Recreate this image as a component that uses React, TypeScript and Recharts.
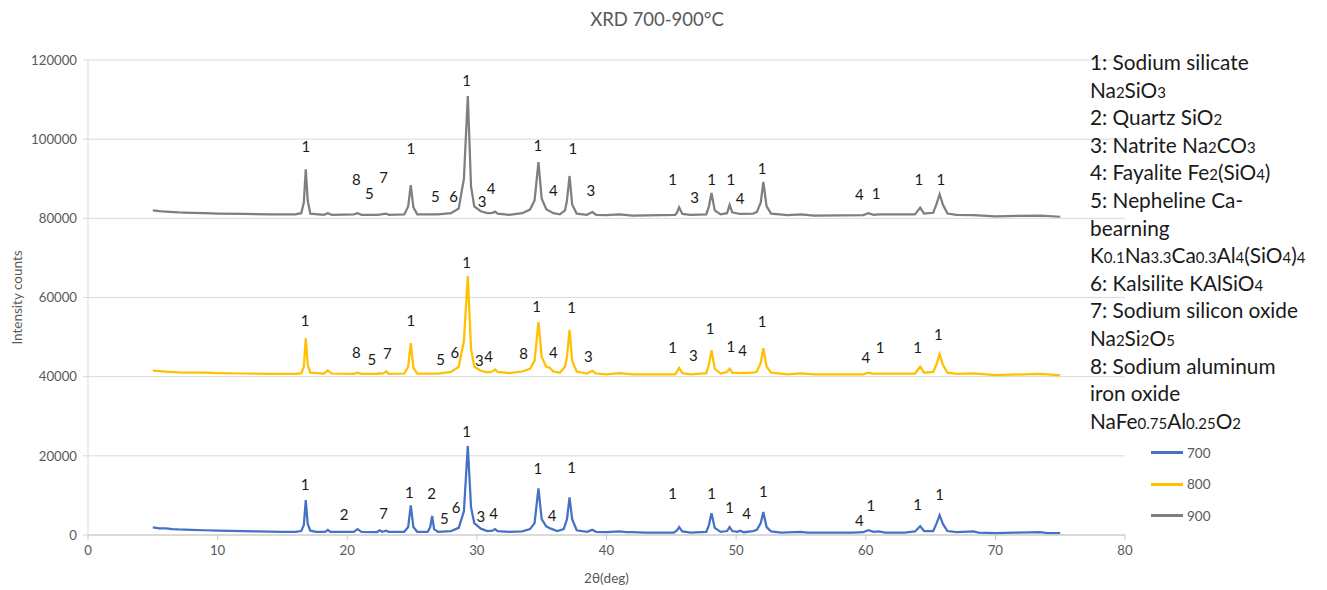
import React from 'react';
import { ComposedChart, Line, Scatter, XAxis, YAxis, CartesianGrid, Legend } from 'recharts';

type Pt = [number, number];
type Lbl = [number, number, string];

const FONT = 'Lato, "Noto Sans", "DejaVu Sans", sans-serif';

const chartTitle = 'XRD 700-900°C';
const xAxisTitle = '2θ(deg)';
const yAxisTitle = 'Intensity counts';
const xTicks = [0, 10, 20, 30, 40, 50, 60, 70, 80];
const yTicks = [0, 20000, 40000, 60000, 80000, 100000, 120000];
const seriesNames = ['700', '800', '900'];
const seriesColors = ['#4472C4', '#FFC000', '#7F7F7F'];

const series700: Pt[] = [
  [5, 1900], [5.5, 1700], [6, 1650], [6.5, 1500], [7, 1400], [7.5, 1350], [8, 1300], [9, 1200],
  [10, 1100], [11, 1050], [12, 950], [13, 900], [14, 850], [15, 800], [16, 800], [16.45, 1000],
  [16.65, 2500], [16.8, 8800], [16.95, 2800], [17.15, 1100], [17.6, 800], [18.3, 800], [18.5, 1300],
  [18.7, 800], [20.5, 800], [20.8, 1500], [21.1, 800], [22.3, 750], [22.5, 1200], [22.7, 800],
  [23.0, 1100], [23.2, 800], [24.4, 800], [24.7, 2000], [24.9, 7500], [25.1, 2000], [25.4, 800],
  [26.2, 800], [26.4, 2000], [26.55, 4800], [26.7, 1500], [27.0, 800], [28.0, 1000], [28.6, 1800],
  [29.0, 6000], [29.3, 22500], [29.55, 7000], [29.8, 3000], [30.3, 1600], [30.8, 1000], [31.2, 1100],
  [31.4, 1500], [31.6, 1000], [32.5, 800], [33.5, 900], [34.1, 1500], [34.45, 3000], [34.75, 11800],
  [35.0, 4000], [35.35, 2200], [35.7, 1600], [36.2, 1000], [36.7, 1500], [36.95, 4000], [37.15, 9500],
  [37.35, 4000], [37.7, 1200], [38.5, 800], [38.9, 1300], [39.2, 800], [40, 700], [41, 900],
  [41.5, 700], [42, 700], [43, 600], [45.2, 600], [45.45, 1200], [45.6, 2000], [45.85, 900],
  [46.5, 600], [47.7, 800], [47.9, 2500], [48.1, 5500], [48.35, 1800], [48.8, 800], [49.3, 1000],
  [49.5, 2000], [49.7, 1000], [50.1, 800], [50.3, 1100], [50.6, 700], [51.3, 1000], [51.6, 1300],
  [51.9, 3000], [52.1, 5800], [52.35, 2000], [52.7, 900], [53.5, 600], [55, 800], [55.5, 600],
  [57, 600], [59, 600], [59.8, 700], [60.2, 1200], [60.6, 800], [61, 900], [61.5, 600], [63, 600],
  [63.8, 900], [64.2, 2200], [64.5, 1000], [65.2, 1000], [65.45, 2800], [65.7, 5000], [65.95, 2800],
  [66.3, 1000], [67, 700], [68.3, 900], [68.7, 600], [70, 500], [71.5, 600], [73.5, 700], [74, 500],
  [75, 500],
];

const series800: Pt[] = [
  [5, 41500], [6, 41300], [7, 41100], [8, 41000], [9, 41000], [10, 40900], [12, 40800], [14, 40700],
  [16, 40700], [16.45, 40900], [16.65, 42500], [16.8, 49700], [16.95, 43000], [17.15, 41000],
  [18.2, 40800], [18.5, 41600], [18.8, 40800], [20.5, 40700], [20.8, 41000], [21.1, 40700],
  [22.3, 40700], [22.5, 40900], [22.7, 40700], [23.0, 41300], [23.2, 40700], [24.4, 40800],
  [24.7, 42500], [24.9, 48500], [25.1, 42300], [25.4, 40800], [27, 40800], [28.0, 41200],
  [28.6, 42500], [29.0, 49000], [29.3, 65400], [29.55, 47000], [29.8, 42500], [30.3, 41500],
  [30.8, 41100], [31.2, 41300], [31.4, 41800], [31.6, 41200], [32.5, 40900], [33.5, 41300],
  [34.1, 42000], [34.45, 44000], [34.75, 53800], [35.0, 45000], [35.35, 42500], [35.6, 42300],
  [35.9, 41300], [36.4, 41000], [36.8, 42500], [36.95, 45000], [37.15, 51800], [37.35, 44000],
  [37.7, 41300], [38.5, 40800], [38.9, 41500], [39.2, 40800], [40, 40600], [41, 40900], [42, 40600],
  [45.3, 40600], [45.45, 41300], [45.6, 42200], [45.85, 40900], [46.5, 40600], [47.7, 40900],
  [47.9, 43000], [48.1, 46700], [48.35, 42000], [48.8, 40800], [49.3, 41200], [49.5, 42000],
  [49.7, 41000], [50.3, 40900], [51.3, 41000], [51.6, 41300], [51.9, 43500], [52.1, 47200],
  [52.35, 42500], [52.7, 41000], [54, 40600], [55, 40800], [56, 40600], [59.8, 40600], [60.2, 41000],
  [60.6, 40700], [61, 40800], [63.8, 40800], [64.2, 42500], [64.5, 41000], [65.2, 41200],
  [65.45, 43000], [65.7, 45700], [65.95, 43000], [66.3, 41000], [67, 40700], [68.3, 40800],
  [70, 40400], [73.5, 40700], [75, 40300],
];

const series900: Pt[] = [
  [5, 82000], [5.5, 81800], [6, 81700], [7, 81500], [8, 81400], [9, 81300], [10, 81200], [12, 81100],
  [14, 81000], [16, 81000], [16.45, 81300], [16.65, 84000], [16.8, 92400], [16.95, 84500],
  [17.15, 81200], [18.2, 80900], [18.5, 81300], [18.8, 80900], [20.5, 81000], [20.8, 81300],
  [21.1, 80900], [22.3, 80900], [22.6, 81000], [23.0, 81200], [23.2, 80900], [24.4, 81000],
  [24.7, 83000], [24.9, 88400], [25.1, 82800], [25.4, 81000], [27, 81000], [28.0, 81300],
  [28.6, 82500], [29.0, 90000], [29.3, 110900], [29.55, 88000], [29.8, 83000], [30.3, 81800],
  [30.8, 81300], [31.2, 81400], [31.4, 81700], [31.6, 81200], [32.5, 80900], [33.5, 81300],
  [34.1, 82200], [34.45, 84500], [34.75, 94200], [35.0, 85000], [35.35, 82300], [35.9, 81300],
  [36.4, 81000], [36.8, 82000], [36.95, 84500], [37.15, 90700], [37.35, 83500], [37.7, 81200],
  [38.5, 80900], [38.9, 81600], [39.2, 80900], [40, 80800], [41, 81000], [42, 80700], [45.3, 80900],
  [45.45, 81500], [45.6, 82800], [45.85, 81100], [46.5, 80900], [47.7, 81000], [47.9, 83000],
  [48.1, 86400], [48.35, 82000], [48.8, 81000], [49.3, 81300], [49.5, 83400], [49.7, 81500],
  [50.3, 81100], [51.3, 81200], [51.6, 81600], [51.9, 84000], [52.1, 89200], [52.35, 83000],
  [52.7, 81200], [54, 80800], [55, 81000], [56, 80700], [59.8, 80800], [60.2, 81300], [60.6, 80900],
  [61, 81000], [63.8, 81000], [64.2, 82700], [64.5, 81200], [65.2, 81400], [65.45, 83500],
  [65.7, 86100], [65.95, 83500], [66.3, 81200], [67, 80900], [68.3, 80800], [70, 80500],
  [73.5, 80700], [75, 80400],
];

const peakLabels700: Lbl[] = [
  [16.75, 12900, '1'], [19.75, 5300, '2'], [22.8, 5550, '7'], [24.8, 10850, '1'], [26.5, 10600, '2'],
  [27.5, 4300, '5'], [28.4, 7100, '6'], [29.2, 26300, '1'], [30.3, 4800, '3'], [31.3, 5550, '4'],
  [34.7, 16900, '1'], [35.8, 5050, '4'], [37.3, 17200, '1'], [45.1, 10600, '1'], [48.1, 10600, '1'],
  [49.5, 7100, '1'], [50.8, 5550, '4'], [52.1, 11100, '1'], [59.5, 3800, '4'], [60.4, 7600, '1'],
  [64.0, 7800, '1'], [65.7, 10350, '1'],
];

const peakLabels800: Lbl[] = [
  [16.75, 54300, '1'], [20.7, 46200, '8'], [21.9, 44450, '5'], [23.1, 45950, '7'], [24.9, 54300, '1'],
  [27.2, 44450, '5'], [28.3, 46200, '6'], [29.2, 68950, '1'], [30.2, 44200, '3'], [30.9, 45200, '4'],
  [33.6, 45950, '8'], [34.6, 57850, '1'], [35.9, 46200, '4'], [37.3, 57600, '1'], [38.6, 45200, '3'],
  [45.1, 47500, '1'], [46.7, 45450, '3'], [48.0, 52300, '1'], [49.6, 47750, '1'], [50.5, 46750, '4'],
  [52.0, 54050, '1'], [60.0, 44950, '4'], [61.1, 47500, '1'], [64.0, 47500, '1'], [65.6, 50750, '1'],
];

const peakLabels900: Lbl[] = [
  [16.8, 98250, '1'], [20.7, 89950, '8'], [21.7, 86400, '5'], [22.8, 90450, '7'], [24.9, 97750, '1'],
  [26.8, 85650, '5'], [28.2, 85650, '6'], [29.2, 114950, '1'], [30.4, 84350, '3'], [31.1, 87650, '4'],
  [34.7, 98500, '1'], [35.9, 87150, '4'], [37.4, 97750, '1'], [38.8, 87150, '3'], [45.1, 89950, '1'],
  [46.8, 85400, '3'], [48.1, 89950, '1'], [49.6, 89950, '1'], [50.3, 85150, '4'], [52.0, 92700, '1'],
  [59.5, 86150, '4'], [60.8, 86400, '1'], [64.1, 89950, '1'], [65.8, 89950, '1'],
];

const phaseLines = [
  '1: Sodium silicate',
  'Na~2~SiO~3~',
  '2: Quartz SiO~2~',
  '3: Natrite Na~2~CO~3~',
  '4: Fayalite Fe~2~(SiO~4~)',
  '5: Nepheline Ca-',
  'bearning',
  'K~0.1~Na~3.3~Ca~0.3~Al~4~(SiO~4~)~4~',
  '6: Kalsilite KAlSiO~4~',
  '7: Sodium silicon oxide',
  'Na~2~Si~2~O~5~',
  '8: Sodium aluminum',
  'iron oxide',
  'NaFe~0.75~Al~0.25~O~2~',
];

const toXY = (pts: Pt[]) => pts.map(([x, y]) => ({ x, y }));
const toLbl = (pts: Lbl[]) => pts.map(([x, y, t]) => ({ x, y, t }));

const LabelShape = (props: any) => {
  const { cx, cy, payload } = props;
  if (cx == null || cy == null) return null;
  return (
    <text x={cx} y={cy} textAnchor="middle" dominantBaseline="central" fontFamily={FONT} fontSize={15} fill="#1a1a1a">
      {payload.t}
    </text>
  );
};

const renderLine = (line: string, i: number) => {
  const parts = line.split('~');
  return (
    <div key={i} style={{ whiteSpace: 'nowrap', height: 27.6, lineHeight: '27.6px' }}>
      {parts.map((p, j) =>
        j % 2 === 1 ? (
          <span key={j} style={{ fontSize: '0.72em', lineHeight: 1 }}>{p}</span>
        ) : (
          <span key={j}>{p}</span>
        )
      )}
    </div>
  );
};

const LegendContent = () => (
  <div style={{ fontFamily: FONT, fontSize: 13.5, color: '#595959' }}>
    {seriesNames.map((n, i) => (
      <div key={n} style={{ display: 'flex', alignItems: 'center', height: 31.5 }}>
        <div style={{ width: 32, height: 3, background: seriesColors[i], marginRight: 4 }} />
        <span>{n}</span>
      </div>
    ))}
  </div>
);

export default function App() {
  const datasets = [series700, series800, series900];
  const labelSets = [peakLabels700, peakLabels800, peakLabels900];
  return (
    <div style={{ position: 'absolute', left: 0, top: 0, width: 1327, height: 590, background: '#fff', fontFamily: FONT }}>
      <div
        style={{
          position: 'absolute', left: 0, width: 1314, top: 8, textAlign: 'center',
          fontSize: 18.5, color: '#595959', fontFamily: FONT,
        }}
      >
        {chartTitle}
      </div>
      <ComposedChart width={1327} height={590} margin={{ top: 60, right: 202, bottom: 0, left: 0 }}>
        <CartesianGrid horizontal vertical={false} stroke="#d9d9d9" strokeWidth={1} />
        <XAxis
          type="number"
          dataKey="x"
          domain={[0, 80]}
          ticks={xTicks}
          height={55}
          stroke="#c8c8c8"
          tickSize={5}
          tickMargin={6}
          tick={{ fill: '#595959', fontSize: 13.2, fontFamily: FONT }}
          label={(p: any) => {
            const vb = p.viewBox;
            return (
              <text x={vb.x + vb.width / 2} y={578} textAnchor="middle" dominantBaseline="central" fill="#595959" fontSize={13.5} fontFamily={FONT}>
                {xAxisTitle}
              </text>
            );
          }}
        />
        <YAxis
          type="number"
          domain={[0, 120000]}
          ticks={yTicks}
          width={88}
          stroke="#d9d9d9"
          tickSize={5}
          tickMargin={6}
          tick={{ fill: '#595959', fontSize: 13.2, fontFamily: FONT }}
          label={(p: any) => {
            const vb = p.viewBox;
            const cy = vb.y + vb.height / 2;
            return (
              <text x={17} y={cy} transform={`rotate(-90 17 ${cy})`} textAnchor="middle" dominantBaseline="central" fill="#595959" fontSize={13.5} fontFamily={FONT}>
                {yAxisTitle}
              </text>
            );
          }}
        />
        {datasets.map((d, i) => (
          <Line
            key={seriesNames[i]}
            name={seriesNames[i]}
            data={toXY(d)}
            dataKey="y"
            stroke={seriesColors[i]}
            strokeWidth={2.25}
            dot={false}
            activeDot={false}
            type="linear"
            isAnimationActive={false}
          />
        ))}
        {labelSets.map((l, i) => (
          <Scatter
            key={'lbl' + i}
            data={toLbl(l)}
            dataKey="y"
            legendType="none"
            shape={LabelShape}
            isAnimationActive={false}
          />
        ))}
        <Legend
          layout="vertical"
          align="center"
          verticalAlign="middle"
          content={LegendContent}
          wrapperStyle={{ position: 'absolute', left: 1151, top: 437, width: 90, height: 100 }}
        />
      </ComposedChart>
      <div
        style={{
          position: 'absolute', left: 1090, top: 48, fontSize: 20.8,
          color: '#1a1a1a', fontFamily: FONT,
        }}
      >
        {phaseLines.map(renderLine)}
      </div>
    </div>
  );
}
